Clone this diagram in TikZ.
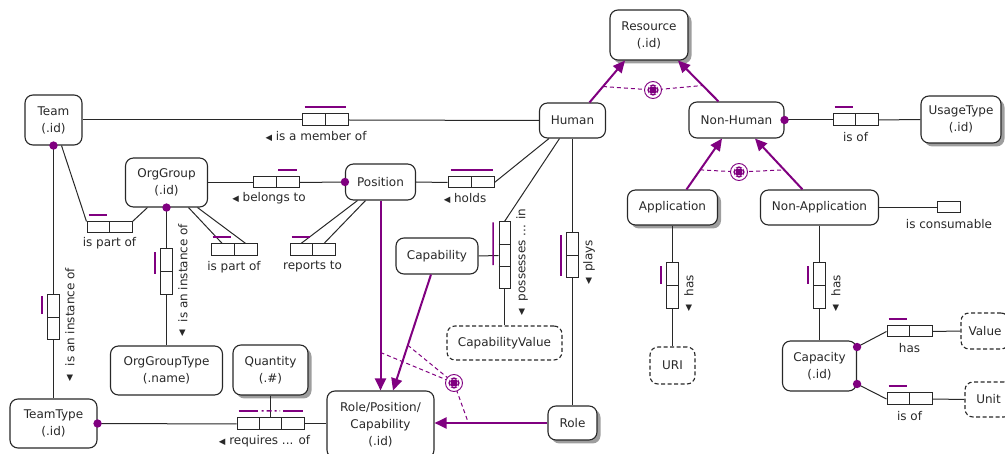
\documentclass[tikz,border=0pt]{standalone}
\usepackage{fontspec}
\setmainfont{DejaVu Sans}
\usetikzlibrary{arrows.meta,shadows,calc}
\definecolor{orm}{RGB}{128,0,128}
\definecolor{ink}{RGB}{40,40,40}
\newcommand\ormtri[1]{{\fontsize{8.5}{8.5}\selectfont #1}}
\newcommand\ormhdiv[2]{\draw[rbl] ($(#1.north west)!#2!(#1.north east)$) -- ($(#1.south west)!#2!(#1.south east)$);}
\newcommand\ormvdiv[2]{\draw[rbl] ($(#1.north west)!#2!(#1.south west)$) -- ($(#1.north east)!#2!(#1.south east)$);}
\begin{document}
\begin{tikzpicture}[x=1pt,y=-1pt,
  font=\fontsize{12}{17}\selectfont, text=ink,
  ent/.style={draw=ink, line width=1.1pt, rounded corners=8pt, fill=white, align=center, inner sep=0pt},
  shad/.style={drop shadow={shadow xshift=3.5pt, shadow yshift=-3.5pt, fill=black!38, opacity=1}},
  val/.style={ent, dash pattern=on 4pt off 2.5pt},
  rb/.style={draw=ink, line width=1pt, fill=white, inner sep=0pt},
  rbl/.style={draw=ink, line width=1pt},
  ln/.style={draw=ink, line width=1pt},
  uc/.style={draw=orm, line width=1.5pt},
  sub/.style={draw=orm, line width=2pt, -{Triangle[length=12pt,width=11pt]}},
  xc/.style={draw=orm, line width=1pt, dash pattern=on 4pt off 3pt},
  dotm/.style={fill=orm},
  lab/.style={inner sep=0pt},
  xor/.style={circle, draw=orm, line width=0.9pt, fill=white, minimum size=17pt, inner sep=0pt,
    path picture={
      \draw[orm, line width=1.6pt] (path picture bounding box.center) circle (4.8pt);
      \draw[white, line width=1.2pt]
        ([shift={(-4.6pt,-4.6pt)}]path picture bounding box.center) -- ([shift={(4.6pt,4.6pt)}]path picture bounding box.center)
        ([shift={(-4.6pt,4.6pt)}]path picture bounding box.center) -- ([shift={(4.6pt,-4.6pt)}]path picture bounding box.center);
      \fill[orm] ([shift={(-2.6pt,-2.6pt)}]path picture bounding box.center) rectangle ([shift={(2.6pt,2.6pt)}]path picture bounding box.center);
    }},
  ]
\useasboundingbox (0,0) rectangle (1005,454);
\clip (0,0) rectangle (1005,454);

% ---------- entity types ----------
\node[ent, shad, minimum width=78pt, minimum height=50pt] (res) at (649,35) {Resource\\(.id)};
\node[ent, minimum width=57pt, minimum height=50pt] (team) at (53.5,120) {Team\\(.id)};
\node[ent, minimum width=82pt, minimum height=49pt] (org) at (166.5,182.5) {OrgGroup\\(.id)};
\node[ent, minimum width=70pt, minimum height=36pt] (pos) at (380.5,182) {Position};
\node[ent, minimum width=66pt, minimum height=35pt] (hum) at (572.5,120.5) {Human};
\node[ent, minimum width=95pt, minimum height=36pt] (nh) at (736.5,120) {Non-Human};
\node[ent, shad, minimum width=80pt, minimum height=47pt] (usage) at (961,119.5) {UsageType\\(.id)};
\node[ent, shad, minimum width=90pt, minimum height=35pt] (app) at (672.5,207.5) {Application};
\node[ent, minimum width=118pt, minimum height=35pt] (napp) at (819.5,207.5) {Non-Application};
\node[ent, minimum width=82pt, minimum height=36pt] (cap) at (437,256) {Capability};
\node[val, minimum width=115pt, minimum height=34pt] (capv) at (504.5,343) {CapabilityValue};
\node[ent, minimum width=107pt, minimum height=67pt] (rpc) at (380.5,424.5) {Role/Position/\\Capability\\(.id)};
\node[ent, shad, minimum width=49pt, minimum height=34pt] (role) at (572.5,423) {Role};
\node[ent, shad, minimum width=75pt, minimum height=50pt] (qty) at (270.5,370) {Quantity\\(.\#)};
\node[ent, minimum width=112pt, minimum height=49pt] (ogt) at (166.5,370.5) {OrgGroupType\\(.name)};
\node[ent, minimum width=87pt, minimum height=49pt] (tt) at (53.5,423.5) {TeamType\\(.id)};
\node[val, minimum width=45pt, minimum height=37pt] (uri) at (672.5,365.5) {URI};
\node[ent, minimum width=74pt, minimum height=50pt] (cpc) at (819.5,366) {Capacity\\(.id)};
\node[val, minimum width=48pt, minimum height=36pt] (valn) at (985,331) {Value};
\node[val, minimum width=47pt, minimum height=35pt] (unit) at (988.5,399.5) {Unit};

% ---------- fact types (role boxes) ----------
\node[rb, minimum width=46pt, minimum height=12pt] (fmem) at (325,120) {};
\node[rb, minimum width=46pt, minimum height=11pt] (fbel) at (276,182.5) {};
\node[rb, minimum width=45pt, minimum height=11pt] (ftp) at (109.5,227.5) {};
\node[rb, minimum width=46pt, minimum height=12pt] (fop) at (234,250) {};
\node[rb, minimum width=45pt, minimum height=12pt] (frep) at (312.5,250) {};
\node[rb, minimum width=46pt, minimum height=11pt] (fhold) at (471,182.5) {};
\node[rb, minimum width=11pt, minimum height=67pt] (fposs) at (504.5,255.5) {};
\node[rb, minimum width=12pt, minimum height=45pt] (fplay) at (572.5,255.5) {};
\node[rb, minimum width=12pt, minimum height=45pt] (fti) at (53.5,317.5) {};
\node[rb, minimum width=12pt, minimum height=46pt] (foi) at (166.5,272) {};
\node[rb, minimum width=67pt, minimum height=12pt] (freq) at (270.5,424) {};
\node[rb, minimum width=12pt, minimum height=46pt] (fah) at (672.5,286) {};
\node[rb, minimum width=12pt, minimum height=46pt] (fnah) at (819.5,286) {};
\node[rb, minimum width=45pt, minimum height=11pt] (fch) at (909.5,331.5) {};
\node[rb, minimum width=45pt, minimum height=12pt] (fcu) at (909.5,399) {};
\node[rb, minimum width=45pt, minimum height=12pt] (fus) at (855.5,120) {};
\node[rb, minimum width=23pt, minimum height=11pt] (fcons) at (948.5,207.5) {};

\foreach \f in {fmem,fbel,ftp,fop,frep,fhold,fch,fcu,fus} {\ormhdiv{\f}{0.5}}
\foreach \f in {fplay,fti,foi,fah,fnah} {\ormvdiv{\f}{0.5}}
\ormvdiv{fposs}{0.3333}\ormvdiv{fposs}{0.6667}
\ormhdiv{freq}{0.3333}\ormhdiv{freq}{0.6667}

% ---------- connectors ----------
\draw[ln] (team.east) -- (fmem.west);
\draw[ln] (fmem.east) -- (hum.west);
\draw[ln] (team.south) -- (fti.north);
\draw[ln] (fti.south) -- (tt.north);
\draw[ln] ([xshift=8pt]team.south) -- (ftp.north west);
\draw[ln] ([xshift=-19pt]org.south) -- (ftp.north east);
\draw[ln] (org.south) -- (foi.north);
\draw[ln] (foi.south) -- (ogt.north);
\draw[ln] (org.east) -- (fbel.west);
\draw[ln] (fbel.east) -- (pos.west);
\draw[ln] ([xshift=22pt]org.south) -- ($(fop.north west)!0.25!(fop.north east)$);
\draw[ln] ([xshift=31pt]org.south) -- ($(fop.north west)!0.75!(fop.north east)$);
\draw[ln] ([xshift=-23pt]pos.south) -- ($(frep.north west)!0.25!(frep.north east)$);
\draw[ln] ([xshift=-15pt]pos.south) -- ($(frep.north west)!0.75!(frep.north east)$);
\draw[ln] (pos.east) -- (fhold.west);
\draw[ln] (fhold.east) -- ([xshift=10pt]hum.south west);
\draw[ln] ([xshift=-13pt]hum.south) -- (fposs.north);
\draw[ln] (cap.east) -- (fposs.west);
\draw[ln] (fposs.south) -- (capv.north);
\draw[ln] (hum.south) -- (fplay.north);
\draw[ln] (fplay.south) -- (role.north);
\draw[ln] (tt.east) -- (freq.west);
\draw[ln] (qty.south) -- (freq.north);
\draw[ln] (freq.east) -- (rpc.west |- freq.east);
\draw[ln] (nh.east) -- (fus.west);
\draw[ln] (fus.east) -- (usage.west);
\draw[ln] (app.south) -- (fah.north);
\draw[ln] (fah.south) -- (uri.north);
\draw[ln] (napp.south) -- (fnah.north);
\draw[ln] (fnah.south) -- (cpc.north);
\draw[ln] (napp.east) -- (fcons.west);
\coordinate (cpd1) at ([yshift=19pt]cpc.east);
\coordinate (cpd2) at ([yshift=-18pt]cpc.east);
\draw[ln] (cpd1) -- (fch.west);
\draw[ln] (fch.east) -- (valn.west);
\draw[ln] (cpd2) -- (fcu.west);
\draw[ln] (fcu.east) -- (unit.west);

% ---------- mandatory dots ----------
\foreach \p in {team.south, org.south, pos.west, tt.east, nh.east, cpd1, cpd2}
  {\fill[dotm] (\p) circle (4.2pt);}

% ---------- uniqueness constraints ----------
\draw[uc] ([xshift=3pt,yshift=6.5pt]fmem.north west) -- ([xshift=-3pt,yshift=6.5pt]fmem.north east);
\draw[uc] ([xshift=2pt,yshift=6.5pt]fbel.north) -- ([xshift=-3pt,yshift=6.5pt]fbel.north east);
\draw[uc] ([xshift=2pt,yshift=6.5pt]ftp.north west) -- ([xshift=-3pt,yshift=6.5pt]ftp.north);
\draw[uc] ([xshift=2pt,yshift=6.5pt]fop.north west) -- ([xshift=-3pt,yshift=6.5pt]fop.north);
\draw[uc] ([xshift=2pt,yshift=6.5pt]frep.north west) -- ([xshift=-3pt,yshift=6.5pt]frep.north);
\draw[uc] ([xshift=3pt,yshift=6.5pt]fhold.north west) -- ([xshift=-2pt,yshift=6.5pt]fhold.north east);
\draw[uc] ([xshift=2pt,yshift=6.5pt]fus.north west) -- ([xshift=-3pt,yshift=6.5pt]fus.north);
\draw[uc] ([xshift=2pt,yshift=6.5pt]fch.north west) -- ([xshift=-3pt,yshift=6.5pt]fch.north);
\draw[uc] ([xshift=2pt,yshift=6.5pt]fcu.north west) -- ([xshift=-3pt,yshift=6.5pt]fcu.north);
\draw[uc] ([xshift=-5.5pt,yshift=-1pt]fposs.north west) -- ($(fposs.north west)!0.64!(fposs.south west)+(-5.5pt,0pt)$);
\draw[uc] ([xshift=-5pt,yshift=-3pt]fplay.north west) -- ([xshift=-5pt,yshift=2pt]fplay.south west);
\draw[uc] ([xshift=-5pt,yshift=-2pt]fti.north west) -- ([xshift=-5pt,yshift=3pt]fti.west);
\draw[uc] ([xshift=-5pt,yshift=-4pt]foi.north west) -- ([xshift=-5pt,yshift=-2pt]foi.west);
\draw[uc] ([xshift=-5pt,yshift=-4pt]fah.north west) -- ([xshift=-5pt,yshift=2pt]fah.west);
\draw[uc] ([xshift=-5pt,yshift=-4pt]fnah.north west) -- ([xshift=-5pt,yshift=2pt]fnah.west);
\draw[uc] ([xshift=2pt,yshift=6.5pt]freq.north west) -- ($(freq.north west)!0.31!(freq.north east)+(0pt,6.5pt)$);
\draw[uc, dash pattern=on 2pt off 3pt on 5pt off 3pt] ($(freq.north west)!0.37!(freq.north east)+(0pt,6.5pt)$) -- ($(freq.north west)!0.64!(freq.north east)+(0pt,6.5pt)$);
\draw[uc] ($(freq.north west)!0.69!(freq.north east)+(0pt,6.5pt)$) -- ([xshift=-2pt,yshift=6.5pt]freq.north east);

% ---------- subtype connections ----------
\draw[sub] ([xshift=17pt]hum.north) -- coordinate[pos=0.38] (xa1) ([xshift=-24pt]res.south);
\draw[sub] ([xshift=-18pt]nh.north) -- coordinate[pos=0.39] (xa2) ([xshift=29pt]res.south);
\draw[sub] ([xshift=14pt]app.north) -- coordinate[pos=0.385] (xb1) ([xshift=-14.5pt]nh.south);
\draw[sub] ([xshift=-17pt]napp.north) -- coordinate[pos=0.385] (xb2) ([xshift=18.5pt]nh.south);
\draw[sub] (pos.south) -- coordinate[pos=0.8] (xc1) (pos.south |- rpc.north);
\draw[sub] ([xshift=-6pt]cap.south) -- coordinate[pos=0.61] (xc2) ([xshift=12.5pt]rpc.north);
\draw[sub] (role.west) -- coordinate[pos=0.7] (xc3) (rpc.east |- role.west);

% ---------- exclusive-or constraints ----------
\coordinate (x1c) at (653,90);
\coordinate (x2c) at (739,172);
\coordinate (x3c) at (454,383);
\draw[xc] (xa1) -- (x1c) -- (xa2);
\draw[xc] (xb1) -- (x2c) -- (xb2);
\draw[xc] (xc1) -- (x3c);
\draw[xc] (xc2) -- (x3c);
\draw[xc] (x3c) -- (xc3);
\node[xor] (x1) at (x1c) {};
\node[xor] (x2) at (x2c) {};
\node[xor] (x3) at (x3c) {};

% ---------- reading labels ----------
\node[lab] (lmem) at (316,136) {\ormtri{◀} is a member of};
\node[lab] (lbel) at (269,198) {\ormtri{◀} belongs to};
\node[lab] (lhold) at (465,198) {\ormtri{◀} holds};
\node[lab] (ltp) at (109.5,243) {is part of};
\node[lab] (lop) at (234,267) {is part of};
\node[lab] (lrep) at (312.5,267) {reports to};
\node[lab] (lreq) at (264.5,441) {\ormtri{◀} requires ... of};
\node[lab] (lus) at (855.5,137) {is of};
\node[lab] (lcons) at (949,224) {is consumable};
\node[lab] (lch) at (909.5,348) {has};
\node[lab] (lcu) at (909.5,416) {is of};
\node[lab, rotate=90] (lposs) at (522,255) {possesses ... in};
\node[lab] (lposs2) at (522,312) {\ormtri{▼}};
\node[lab, rotate=90] (lplay) at (589,256) {plays};
\node[lab] (lplay2) at (589,281) {\ormtri{▼}};
\node[lab, rotate=90] (lti) at (70,317) {is an instance of};
\node[lab] (lti2) at (70,378) {\ormtri{▼}};
\node[lab, rotate=90] (loi) at (183,273) {is an instance of};
\node[lab] (loi2) at (182.5,333) {\ormtri{▼}};
\node[lab, rotate=90] (lah) at (689,286) {has};
\node[lab] (lah2) at (689,308) {\ormtri{▼}};
\node[lab, rotate=90] (lnah) at (836,286) {has};
\node[lab] (lnah2) at (836,308) {\ormtri{▼}};
\end{tikzpicture}
\end{document}
